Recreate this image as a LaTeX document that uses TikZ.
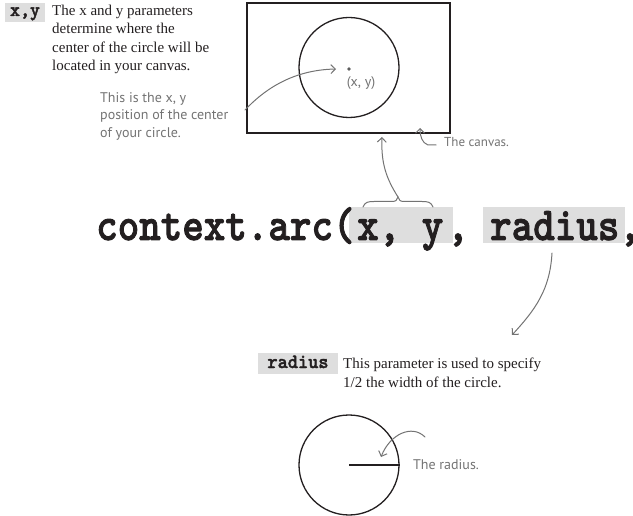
\documentclass[tikz,border=0pt]{standalone}
\usepackage{fontspec}
\setmainfont{Liberation Serif}
\newfontfamily\handfont{PT Sans}
\newfontfamily\codefont{lmmonolt10-bold.otf}[FakeBold=2]
\usetikzlibrary{arrows.meta}
\definecolor{textblack}{RGB}{35,31,32}
\definecolor{handgray}{RGB}{115,115,115}
\definecolor{boxgray}{RGB}{222,222,222}
\tikzset{
  graybox/.style={fill=boxgray, draw=none, inner sep=0pt},
  body/.style={font=\fontsize{15}{18.4}\selectfont, text=textblack, align=left, inner sep=0pt, anchor=north west},
  note/.style={font=\handfont\fontsize{14}{17.5}\selectfont, text=handgray, align=left, inner sep=0pt},
  ptr/.style={draw=handgray, line width=1pt, line cap=round, -{Straight Barb[length=4.5pt,width=9pt]}},
  plain/.style={draw=handgray, line width=1pt, line cap=round},
  ink/.style={draw=textblack, line width=1.3pt},
  codebig/.style={inner sep=0pt, anchor=base west, text=textblack},
}
\newcommand{\codetxt}[3]{\scalebox{1}[#2]{\fontsize{#1}{#1}\codefont #3}}
\newcommand{\bigcode}[1]{\codetxt{41}{1.15}{#1}}
\begin{document}
\begin{tikzpicture}[x=1pt,y=-1pt]
\useasboundingbox (0,0) rectangle (633,516);
% ---- x,y explanation
\node[graybox, minimum width=40pt, minimum height=19pt] (xylab) at (25,12.5) {};
\node[inner sep=0pt, anchor=base, text=textblack] (xytxt) at (25,16) {\codetxt{19}{1.05}{x,y}};
\node[body] (xydesc) at (52,4.8) {The x and y parameters\\determine where the\\center of the circle will be\\located in your canvas.};
% ---- canvas
\node[ink, minimum width=203pt, minimum height=130pt, inner sep=0pt] (canvas) at (348.5,68) {};
\node[ink, circle, minimum size=100pt, inner sep=0pt] (topcirc) at (349,67.5) {};
\node[circle, fill=handgray!80!black, inner sep=0pt, minimum size=3.8pt] (center) at (349,69) {};
\node[note, anchor=base] (xylbl) at (361,87) {(x, y)};
\node[note, anchor=north west] (posnote) at (100,92) {This is the x, y\\position of the center\\of your circle.};
\coordinate (posstart) at (245,110);
\coordinate (posend) at (336,69);
\draw[ptr] (posstart) .. controls (262,92) and (290,70) .. (posend);
\node[note, font=\handfont\fontsize{13}{16}\selectfont, anchor=base west] (canvnote) at (444,147) {The canvas.};
\coordinate (canvstart) at (436,145);
\coordinate (canvtip) at (420,128);
\draw[ptr] (canvstart) -- (428,145) .. controls (422,143) and (420,136) .. (canvtip);
% ---- code line
\node[graybox, minimum width=104pt, minimum height=36pt] (xybox) at (401,225) {};
\node[graybox, minimum width=142pt, minimum height=36pt] (radbox) at (554,225) {};
\node[codebig] (code1) at (96,240) {\bigcode{context.arc(}};
\node[codebig] (codexy) at (357,240) {\bigcode{x, y}};
\node[codebig] (comma1) at (447,240) {\bigcode{,}};
\node[codebig] (coderad) at (490,240) {\bigcode{radius}};
\node[codebig] (comma2) at (619,240) {\bigcode{,}};
% brace over x, y
\coordinate (brL) at (363,207);
\coordinate (brT) at (398,197);
\coordinate (brR) at (433,207);
\draw[plain] (brL) .. controls (365,202) and (368,201.5) .. (374,201.5) -- (392,201.5) .. controls (396,201.5) and (397,200) .. (brT)
  .. controls (399,200) and (400,201.5) .. (404,201.5) -- (422,201.5) .. controls (428,201.5) and (431,202) .. (brR);
\coordinate (upend) at (382,137);
\draw[ptr] (brT) .. controls (386,178) and (381,163) .. (upend);
% arrow from radius down
\coordinate (radstart) at (552,253);
\coordinate (radend) at (512,335);
\draw[ptr] (radstart) .. controls (550,290) and (535,310) .. (radend);
% ---- radius explanation
\node[graybox, minimum width=80pt, minimum height=21pt] (radlab) at (298,363.5) {};
\node[inner sep=0pt, anchor=base, text=textblack] (radtxt) at (298,368) {\codetxt{19.4}{1.05}{radius}};
\node[body, font=\fontsize{15}{18.8}\selectfont] (raddesc) at (343,357.8) {This parameter is used to specify\\1/2 the width of the circle.};
% bottom circle
\node[ink, circle, minimum size=100pt, inner sep=0pt] (botcirc) at (349,465) {};
\coordinate (bc) at (349,465);
\draw[ink] (bc) -- (botcirc.east);
\node[note, anchor=base west] (radnote) at (413,469) {The radius.};
\coordinate (rstart) at (425,437);
\coordinate (rtip) at (381,457);
\draw[ptr] (rstart) .. controls (412,424) and (390,434) .. (rtip);
\end{tikzpicture}
\end{document}
